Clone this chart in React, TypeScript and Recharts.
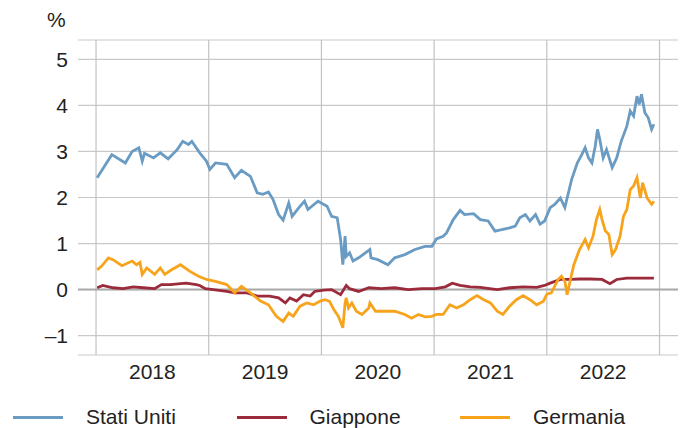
import React from "react";
import { LineChart, Line, XAxis, YAxis, CartesianGrid, ReferenceLine } from "recharts";

// decimal years and yields (%)
const usX = [2018.01, 2018.14, 2018.26, 2018.32, 2018.38, 2018.41, 2018.43, 2018.51, 2018.57, 2018.64, 2018.72, 2018.77, 2018.82, 2018.85, 2018.92, 2018.98, 2019.01, 2019.06, 2019.16, 2019.23, 2019.29, 2019.37, 2019.43, 2019.48, 2019.53, 2019.57, 2019.62, 2019.66, 2019.71, 2019.74, 2019.8, 2019.85, 2019.88, 2019.97, 2020.05, 2020.09, 2020.14, 2020.17, 2020.19, 2020.21, 2020.22, 2020.25, 2020.28, 2020.33, 2020.43, 2020.44, 2020.5, 2020.59, 2020.65, 2020.74, 2020.83, 2020.92, 2020.98, 2021.02, 2021.08, 2021.11, 2021.17, 2021.23, 2021.27, 2021.35, 2021.41, 2021.48, 2021.54, 2021.6, 2021.67, 2021.72, 2021.76, 2021.81, 2021.85, 2021.9, 2021.94, 2021.98, 2022.03, 2022.07, 2022.12, 2022.16, 2022.22, 2022.27, 2022.31, 2022.34, 2022.37, 2022.4, 2022.43, 2022.45, 2022.47, 2022.5, 2022.53, 2022.58, 2022.62, 2022.66, 2022.71, 2022.74, 2022.77, 2022.8, 2022.82, 2022.84, 2022.87, 2022.9, 2022.93, 2022.95];
const usY = [2.43, 2.93, 2.75, 3.0, 3.08, 2.79, 2.96, 2.86, 2.97, 2.84, 3.04, 3.22, 3.15, 3.22, 2.97, 2.79, 2.61, 2.75, 2.72, 2.43, 2.59, 2.46, 2.1, 2.07, 2.12, 1.96, 1.63, 1.51, 1.88, 1.59, 1.78, 1.92, 1.74, 1.92, 1.81, 1.59, 1.56, 1.09, 0.54, 1.16, 0.72, 0.8, 0.62, 0.69, 0.87, 0.69, 0.65, 0.54, 0.69, 0.76, 0.87, 0.94, 0.94, 1.1, 1.16, 1.23, 1.52, 1.72, 1.63, 1.65, 1.52, 1.49, 1.27, 1.3, 1.34, 1.38, 1.56, 1.63, 1.49, 1.63, 1.42, 1.49, 1.78, 1.85, 1.99, 1.78, 2.39, 2.75, 2.93, 3.08, 2.86, 2.75, 3.12, 3.48, 3.26, 2.86, 3.04, 2.65, 2.86, 3.22, 3.55, 3.88, 3.77, 4.2, 4.02, 4.24, 3.84, 3.73, 3.48, 3.59];

const jpX = [2018.01, 2018.06, 2018.15, 2018.24, 2018.33, 2018.42, 2018.52, 2018.58, 2018.66, 2018.75, 2018.8, 2018.89, 2018.92, 2018.97, 2019.04, 2019.16, 2019.23, 2019.34, 2019.43, 2019.54, 2019.62, 2019.68, 2019.72, 2019.78, 2019.84, 2019.9, 2019.94, 2020.02, 2020.09, 2020.17, 2020.22, 2020.25, 2020.33, 2020.42, 2020.53, 2020.65, 2020.77, 2020.89, 2021.01, 2021.1, 2021.16, 2021.23, 2021.32, 2021.41, 2021.56, 2021.67, 2021.79, 2021.91, 2021.98, 2022.03, 2022.12, 2022.21, 2022.29, 2022.38, 2022.49, 2022.56, 2022.62, 2022.71, 2022.83, 2022.95];
const jpY = [0.04, 0.09, 0.04, 0.02, 0.06, 0.04, 0.02, 0.11, 0.11, 0.13, 0.14, 0.11, 0.09, 0.02, 0.0, -0.04, -0.07, -0.07, -0.14, -0.14, -0.18, -0.29, -0.18, -0.25, -0.11, -0.14, -0.04, -0.01, 0.0, -0.11, 0.09, 0.02, -0.04, 0.04, 0.02, 0.04, 0.0, 0.02, 0.02, 0.06, 0.14, 0.09, 0.06, 0.05, 0.0, 0.04, 0.06, 0.05, 0.09, 0.14, 0.22, 0.22, 0.23, 0.23, 0.22, 0.13, 0.22, 0.25, 0.25, 0.25];

const deX = [2018.01, 2018.05, 2018.11, 2018.15, 2018.23, 2018.32, 2018.36, 2018.39, 2018.41, 2018.45, 2018.52, 2018.57, 2018.61, 2018.67, 2018.75, 2018.83, 2018.91, 2018.98, 2019.06, 2019.16, 2019.23, 2019.29, 2019.37, 2019.46, 2019.53, 2019.6, 2019.66, 2019.71, 2019.75, 2019.81, 2019.87, 2019.93, 2019.99, 2020.03, 2020.07, 2020.11, 2020.15, 2020.19, 2020.21, 2020.22, 2020.24, 2020.27, 2020.31, 2020.36, 2020.42, 2020.43, 2020.48, 2020.56, 2020.65, 2020.74, 2020.8, 2020.86, 2020.92, 2020.98, 2021.02, 2021.08, 2021.14, 2021.2, 2021.26, 2021.32, 2021.38, 2021.44, 2021.5, 2021.56, 2021.61, 2021.67, 2021.73, 2021.79, 2021.85, 2021.91, 2021.97, 2022.0, 2022.04, 2022.1, 2022.13, 2022.16, 2022.18, 2022.21, 2022.24, 2022.29, 2022.34, 2022.37, 2022.41, 2022.44, 2022.47, 2022.49, 2022.52, 2022.55, 2022.58, 2022.61, 2022.65, 2022.68, 2022.71, 2022.74, 2022.77, 2022.8, 2022.83, 2022.85, 2022.89, 2022.93, 2022.95];
const deY = [0.43, 0.51, 0.69, 0.65, 0.52, 0.62, 0.54, 0.59, 0.33, 0.47, 0.33, 0.47, 0.33, 0.43, 0.54, 0.4, 0.29, 0.22, 0.18, 0.11, -0.07, 0.07, -0.07, -0.25, -0.33, -0.58, -0.69, -0.51, -0.58, -0.36, -0.29, -0.33, -0.25, -0.22, -0.25, -0.43, -0.58, -0.83, -0.29, -0.18, -0.4, -0.29, -0.47, -0.54, -0.4, -0.29, -0.47, -0.47, -0.47, -0.54, -0.62, -0.54, -0.59, -0.58, -0.54, -0.54, -0.33, -0.4, -0.33, -0.22, -0.13, -0.22, -0.29, -0.47, -0.54, -0.36, -0.22, -0.13, -0.22, -0.33, -0.25, -0.1, -0.07, 0.22, 0.29, 0.18, -0.11, 0.22, 0.54, 0.87, 1.09, 0.91, 1.16, 1.52, 1.74, 1.52, 1.27, 1.2, 0.76, 0.87, 1.16, 1.59, 1.74, 2.17, 2.25, 2.43, 1.99, 2.32, 1.99, 1.85, 1.92];

const yearLines = [2018, 2019, 2020, 2021, 2022, 2023];
const yearTicks = [2018.5, 2019.5, 2020.5, 2021.5, 2022.5];
const yTicks = [-1, 0, 1, 2, 3, 4, 5];

const series = [
  { name: "Stati Uniti", color: "#6a9bc3", xs: usX, ys: usY },
  { name: "Giappone", color: "#9b2a3b", xs: jpX, ys: jpY },
  { name: "Germania", color: "#f7a41c", xs: deX, ys: deY },
];

const font = "'Liberation Sans', Arial, sans-serif";
const tick = { fontSize: 21, fill: "#222", fontFamily: font };

export default function App() {
  return (
    <div style={{ position: "absolute", left: 0, top: 0, width: 686, height: 428, background: "#fff", fontFamily: font }}>
      <LineChart width={686} height={428} margin={{ top: 40, right: 8, left: 18, bottom: 43 }}>
        <CartesianGrid vertical={false} stroke="#c9c9c9" strokeWidth={1.2} />
        <XAxis type="number" dataKey="x" domain={[2017.84, 2023.164]} ticks={yearTicks} allowDataOverflow
          tickFormatter={(v) => String(Math.floor(v))} axisLine={false} tickLine={false} tick={tick} tickMargin={3} height={30} />
        <YAxis type="number" domain={[-1.42, 5.42]} ticks={yTicks} allowDataOverflow width={60}
          tickFormatter={(v) => (v < 0 ? "\u2013" + Math.abs(v) : String(v))} axisLine={false} tickLine={false} tick={tick} tickMargin={4} />
        {yearLines.map((yr) => (
          <ReferenceLine key={yr} x={yr} stroke="#c2c2c2" strokeWidth={1.2} />
        ))}
        <ReferenceLine y={0} stroke="#aaaaaa" strokeWidth={2} />
        {series.map((s) => (
          <Line key={s.name} data={s.xs.map((x, i) => ({ x, y: s.ys[i] }))} dataKey="y" name={s.name}
            stroke={s.color} strokeWidth={2.8} dot={false} isAnimationActive={false} />
        ))}
      </LineChart>
      <div style={{ position: "absolute", left: 47, top: 8, fontSize: 21, color: "#222" }}>%</div>
      {series.map((s, i) => (
        <div key={s.name} style={{ position: "absolute", left: 13 + i * 223.5, top: 405, height: 24, display: "flex", alignItems: "center", fontSize: 21, color: "#222" }}>
          <span style={{ display: "inline-block", width: 50, height: 3, background: s.color, marginRight: 23 }} />
          <span>{s.name}</span>
        </div>
      ))}
    </div>
  );
}
